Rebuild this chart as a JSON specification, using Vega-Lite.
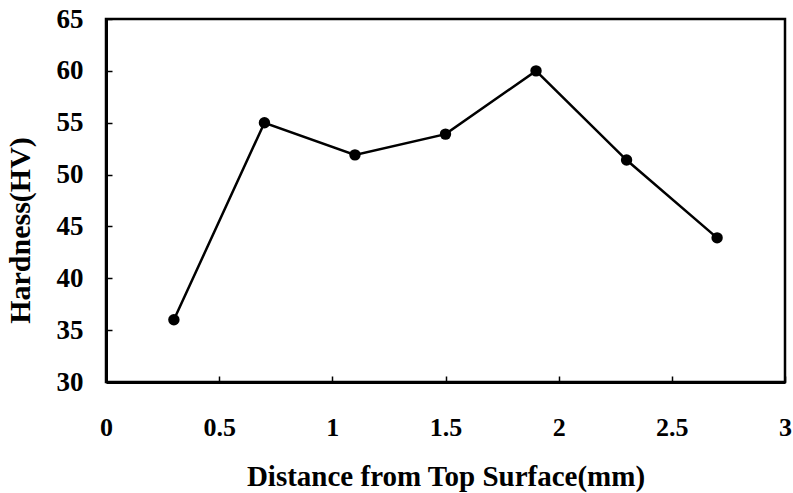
{
  "$schema": "https://vega.github.io/schema/vega-lite/v6.json",
  "width": 679,
  "height": 363,
  "autosize": {"type": "none"},
  "padding": {"left": 106, "top": 19, "right": 8, "bottom": 111},
  "background": "white",
  "config": {
    "view": {"stroke": "black", "strokeWidth": 2.5},
    "font": "Liberation Serif",
    "axis": {
      "grid": false,
      "domainColor": "black",
      "domainWidth": 3,
      "tickColor": "black",
      "tickWidth": 1.5,
      "tickSize": -6,
      "labelFont": "Liberation Serif",
      "labelFontSize": 26,
      "labelFontWeight": "bold",
      "labelColor": "#000000",
      "titleFont": "Liberation Serif",
      "titleFontSize": 29,
      "titleFontWeight": "bold",
      "titleColor": "#000000"
    }
  },
  "data": {
    "values": [
      {"d": 0.3, "h": 36.0},
      {"d": 0.7, "h": 55.0},
      {"d": 1.1, "h": 51.9},
      {"d": 1.5, "h": 53.9},
      {"d": 1.9, "h": 60.0},
      {"d": 2.3, "h": 51.4},
      {"d": 2.7, "h": 43.9}
    ]
  },
  "encoding": {
    "x": {
      "field": "d",
      "type": "quantitative",
      "scale": {"domain": [0, 3], "nice": false, "zero": false},
      "axis": {
        "title": "Distance from Top Surface(mm)",
        "format": "~g",
        "values": [0, 0.5, 1, 1.5, 2, 2.5, 3],
        "labelPadding": 38,
        "titlePadding": 22,
        "labelFlush": false,
        "labelOverlap": false
      }
    },
    "y": {
      "field": "h",
      "type": "quantitative",
      "scale": {"domain": [30, 65], "nice": false, "zero": false},
      "axis": {
        "title": "Hardness(HV)",
        "titleFontSize": 30,
        "titleY": 211,
        "labelFontSize": 27,
        "values": [30, 35, 40, 45, 50, 55, 60, 65],
        "labelPadding": 29,
        "titlePadding": 21,
        "labelFlush": false,
        "labelOverlap": false
      }
    }
  },
  "layer": [
    {"mark": {"type": "line", "color": "black", "strokeWidth": 2.5}},
    {"mark": {"type": "point", "filled": true, "color": "black", "opacity": 1, "size": 130}}
  ]
}
